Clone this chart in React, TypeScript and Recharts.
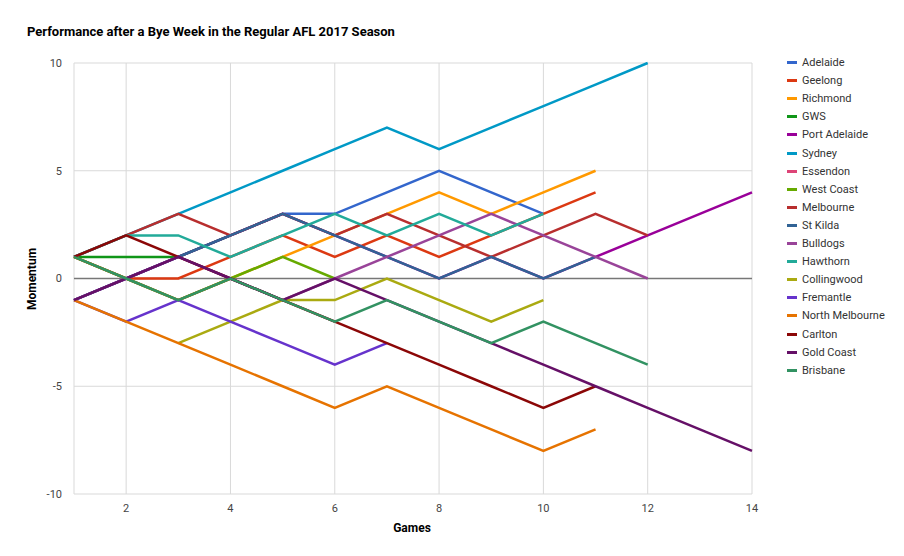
import { LineChart, Line, XAxis, YAxis, CartesianGrid, ReferenceLine } from "recharts";

const games = [1, 2, 3, 4, 5, 6, 7, 8, 9, 10, 11, 12, 13, 14];
const xTicks = [2, 4, 6, 8, 10, 12, 14];
const yTicks = [-10, -5, 0, 5, 10];

// momentum per game, starting at game 1
const adelaide = [-1, 0, 1, 2, 3, 3, 4, 5, 4, 3];
const geelong = [1, 0, 0, 1, 2, 1, 2, 1, 2, 3, 4];
const richmond = [1, 0, -1, 0, 1, 2, 3, 4, 3, 4, 5];
const gws = [1, 1, 1, 2];
const portAdelaide = [-1, 0, 1, 2, 3, 2, 1, 0, 1, 0, 1, 2, 3, 4];
const sydney = [1, 2, 3, 4, 5, 6, 7, 6, 7, 8, 9, 10];
const essendon = [1, 0, -1, 0, -1, -2];
const westCoast = [1, 0, -1, 0, 1, 0];
const melbourne = [1, 2, 3, 2, 3, 2, 3, 2, 1, 2, 3, 2];
const stKilda = [-1, 0, 1, 2, 3, 2, 1, 0, 1, 0, 1];
const bulldogs = [-1, 0, 1, 0, -1, 0, 1, 2, 3, 2, 1, 0];
const hawthorn = [1, 2, 2, 1, 2, 3, 2, 3, 2, 3];
const collingwood = [null, null, -3, -2, -1, -1, 0, -1, -2, -1];
const fremantle = [-1, -2, -1, -2, -3, -4, -3];
const northMelbourne = [-1, -2, -3, -4, -5, -6, -5, -6, -7, -8, -7];
const carlton = [1, 2, 1, 0, -1, -2, -3, -4, -5, -6, -5];
const goldCoast = [-1, 0, 1, 0, -1, 0, -1, -2, -3, -4, -5, -6, -7, -8];
const brisbane = [1, 0, -1, 0, -1, -2, -1, -2, -3, -2, -3, -4];

const teams = [
  { name: "Adelaide", values: adelaide, color: "#3366cc" },
  { name: "Geelong", values: geelong, color: "#dc3912" },
  { name: "Richmond", values: richmond, color: "#ff9900" },
  { name: "GWS", values: gws, color: "#109618" },
  { name: "Port Adelaide", values: portAdelaide, color: "#990099" },
  { name: "Sydney", values: sydney, color: "#0099c6" },
  { name: "Essendon", values: essendon, color: "#dd4477" },
  { name: "West Coast", values: westCoast, color: "#66aa00" },
  { name: "Melbourne", values: melbourne, color: "#b82e2e" },
  { name: "St Kilda", values: stKilda, color: "#316395" },
  { name: "Bulldogs", values: bulldogs, color: "#994499" },
  { name: "Hawthorn", values: hawthorn, color: "#22aa99" },
  { name: "Collingwood", values: collingwood, color: "#aaaa11" },
  { name: "Fremantle", values: fremantle, color: "#6633cc" },
  { name: "North Melbourne", values: northMelbourne, color: "#e67300" },
  { name: "Carlton", values: carlton, color: "#8b0707" },
  { name: "Gold Coast", values: goldCoast, color: "#651067" },
  { name: "Brisbane", values: brisbane, color: "#329262" },
];

const data = games.map((g, i) => {
  const row: Record<string, number | null> = { game: g };
  teams.forEach((t) => {
    const v = t.values[i];
    row[t.name] = v === undefined ? null : v;
  });
  return row;
});

const font = "Roboto, Arial, sans-serif";

export default function App() {
  return (
    <div style={{ position: "absolute", left: 0, top: 0, width: 904, height: 556, background: "#fff", fontFamily: font }}>
      <div style={{ position: "absolute", left: 27, top: 24, fontSize: 13, fontWeight: 700, color: "#000" }}>
        Performance after a Bye Week in the Regular AFL 2017 Season
      </div>
      <LineChart width={904} height={556} data={data} margin={{ top: 63, right: 152, bottom: 0, left: 0 }}>
        <CartesianGrid stroke="#d9d9d9" vertical horizontal />
        <XAxis
          dataKey="game"
          type="number"
          domain={[1, 14]}
          ticks={xTicks}
          height={62}
          axisLine={false}
          tickLine={false}
          tickMargin={4}
          tick={{ fill: "#444", fontSize: 11, fontFamily: font }}
        />
        <YAxis
          type="number"
          domain={[-10, 10]}
          ticks={yTicks}
          width={74}
          axisLine={false}
          tickLine={false}
          tickMargin={6}
          tick={{ fill: "#444", fontSize: 11, fontFamily: font }}
        />
        <ReferenceLine y={0} stroke="#777" strokeWidth={1.5} />
        {teams.map((t) => (
          <Line
            key={t.name}
            dataKey={t.name}
            stroke={t.color}
            strokeWidth={2.5}
            dot={false}
            type="linear"
            isAnimationActive={false}
          />
        ))}
      </LineChart>
      <div style={{ position: "absolute", left: 412, top: 521, fontSize: 12, fontWeight: 700, transform: "translateX(-50%)" }}>Games</div>
      <div style={{ position: "absolute", left: 32, top: 279, fontSize: 12, fontWeight: 700, transform: "translate(-50%, -50%) rotate(-90deg)" }}>
        Momentum
      </div>
      {teams.map((t, i) => (
        <div key={t.name} style={{ position: "absolute", left: 787, top: 56 + i * 18.1, display: "flex", alignItems: "center", fontSize: 11, color: "#333", whiteSpace: "nowrap" }}>
          <span style={{ display: "inline-block", width: 10, height: 3, background: t.color, marginRight: 5 }} />
          {t.name}
        </div>
      ))}
    </div>
  );
}
